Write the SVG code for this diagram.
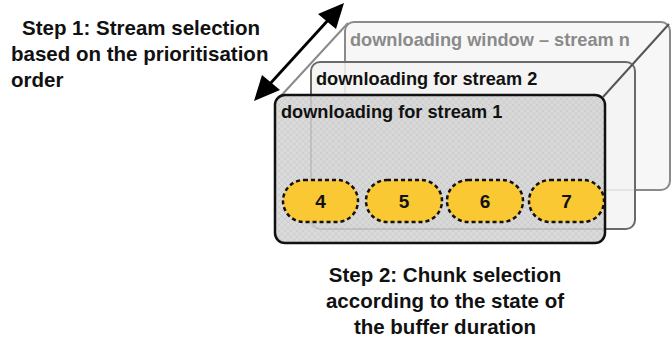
<svg xmlns="http://www.w3.org/2000/svg" width="672" height="341" viewBox="0 0 672 341">
<defs>
<style>
.lbl{font-family:"Liberation Sans",Arial,sans-serif;font-weight:bold;font-size:20.5px;fill:#111}
.box{font-family:"Liberation Sans",Arial,sans-serif;font-weight:bold;font-size:18.2px}
.pill{fill:#f9c832;stroke:#111;stroke-width:2.5;stroke-dasharray:4 3}
.num{font-family:"Liberation Sans",Arial,sans-serif;font-weight:bold;font-size:19px;fill:#111;text-anchor:middle}
.head{fill:#000}
</style>
<pattern id="hatch" width="6" height="6" patternUnits="userSpaceOnUse">
<rect width="6" height="6" fill="#d3d3d3"/>
<path d="M0,0L6,6M6,0L0,6" stroke="#c4c4c4" stroke-width="0.8"/>
</pattern>
</defs>
<rect width="672" height="341" fill="#fff"/>
<g id="box-stream-n">
<rect x="345" y="22" width="325" height="168" rx="9" fill="#f6f6f6" fill-opacity="0.9" stroke="#8a8a8a" stroke-width="2"/>
<text class="box" x="350" y="46" fill="#8a8a8a">downloading window – stream n</text>
</g>
<g id="box-stream-2">
<rect x="311" y="62" width="324" height="167" rx="9" fill="#f3f3f3" fill-opacity="0.85" stroke="#6a6a6a" stroke-width="2"/>
<text class="box" x="316" y="85" fill="#111">downloading for stream 2</text>
</g>
<g id="connectors">
<line x1="279" y1="98" x2="348" y2="23" stroke="#8a8a8a" stroke-width="2"/>
<line x1="603" y1="97" x2="669" y2="24" stroke="#555" stroke-width="2"/>
<line x1="268" y1="86" x2="330" y2="18" stroke="#000" stroke-width="2.8"/>
<polygon class="head" points="344,3 336,29 318,14"/>
<polygon class="head" points="254,101 262,75 280,90"/>
</g>
<g id="box-stream-1">
<rect x="275" y="95" width="330" height="148" rx="10" fill="url(#hatch)" fill-opacity="0.85" stroke="#111" stroke-width="2.5"/>
<text class="box" x="281" y="118" fill="#111">downloading for stream 1</text>
</g>
<g id="chunk-4"><rect class="pill" x="283" y="180" width="75" height="42" rx="21"/><text class="num" x="320.5" y="208">4</text></g>
<g id="chunk-5"><rect class="pill" x="366" y="180" width="76" height="42" rx="21"/><text class="num" x="404" y="208">5</text></g>
<g id="chunk-6"><rect class="pill" x="447" y="180" width="76" height="42" rx="21"/><text class="num" x="485" y="208">6</text></g>
<g id="chunk-7"><rect class="pill" x="529" y="180" width="75" height="42" rx="21"/><text class="num" x="566.5" y="208">7</text></g>
<g id="step1">
<text class="lbl" x="22" y="35">Step 1: Stream selection</text>
<text class="lbl" x="11" y="61">based on the prioritisation</text>
<text class="lbl" x="11" y="87">order</text>
</g>
<g id="step2">
<text class="lbl" x="445" y="282" text-anchor="middle">Step 2: Chunk selection</text>
<text class="lbl" x="445" y="308" text-anchor="middle">according to the state of</text>
<text class="lbl" x="445" y="334" text-anchor="middle">the buffer duration</text>
</g>
</svg>
